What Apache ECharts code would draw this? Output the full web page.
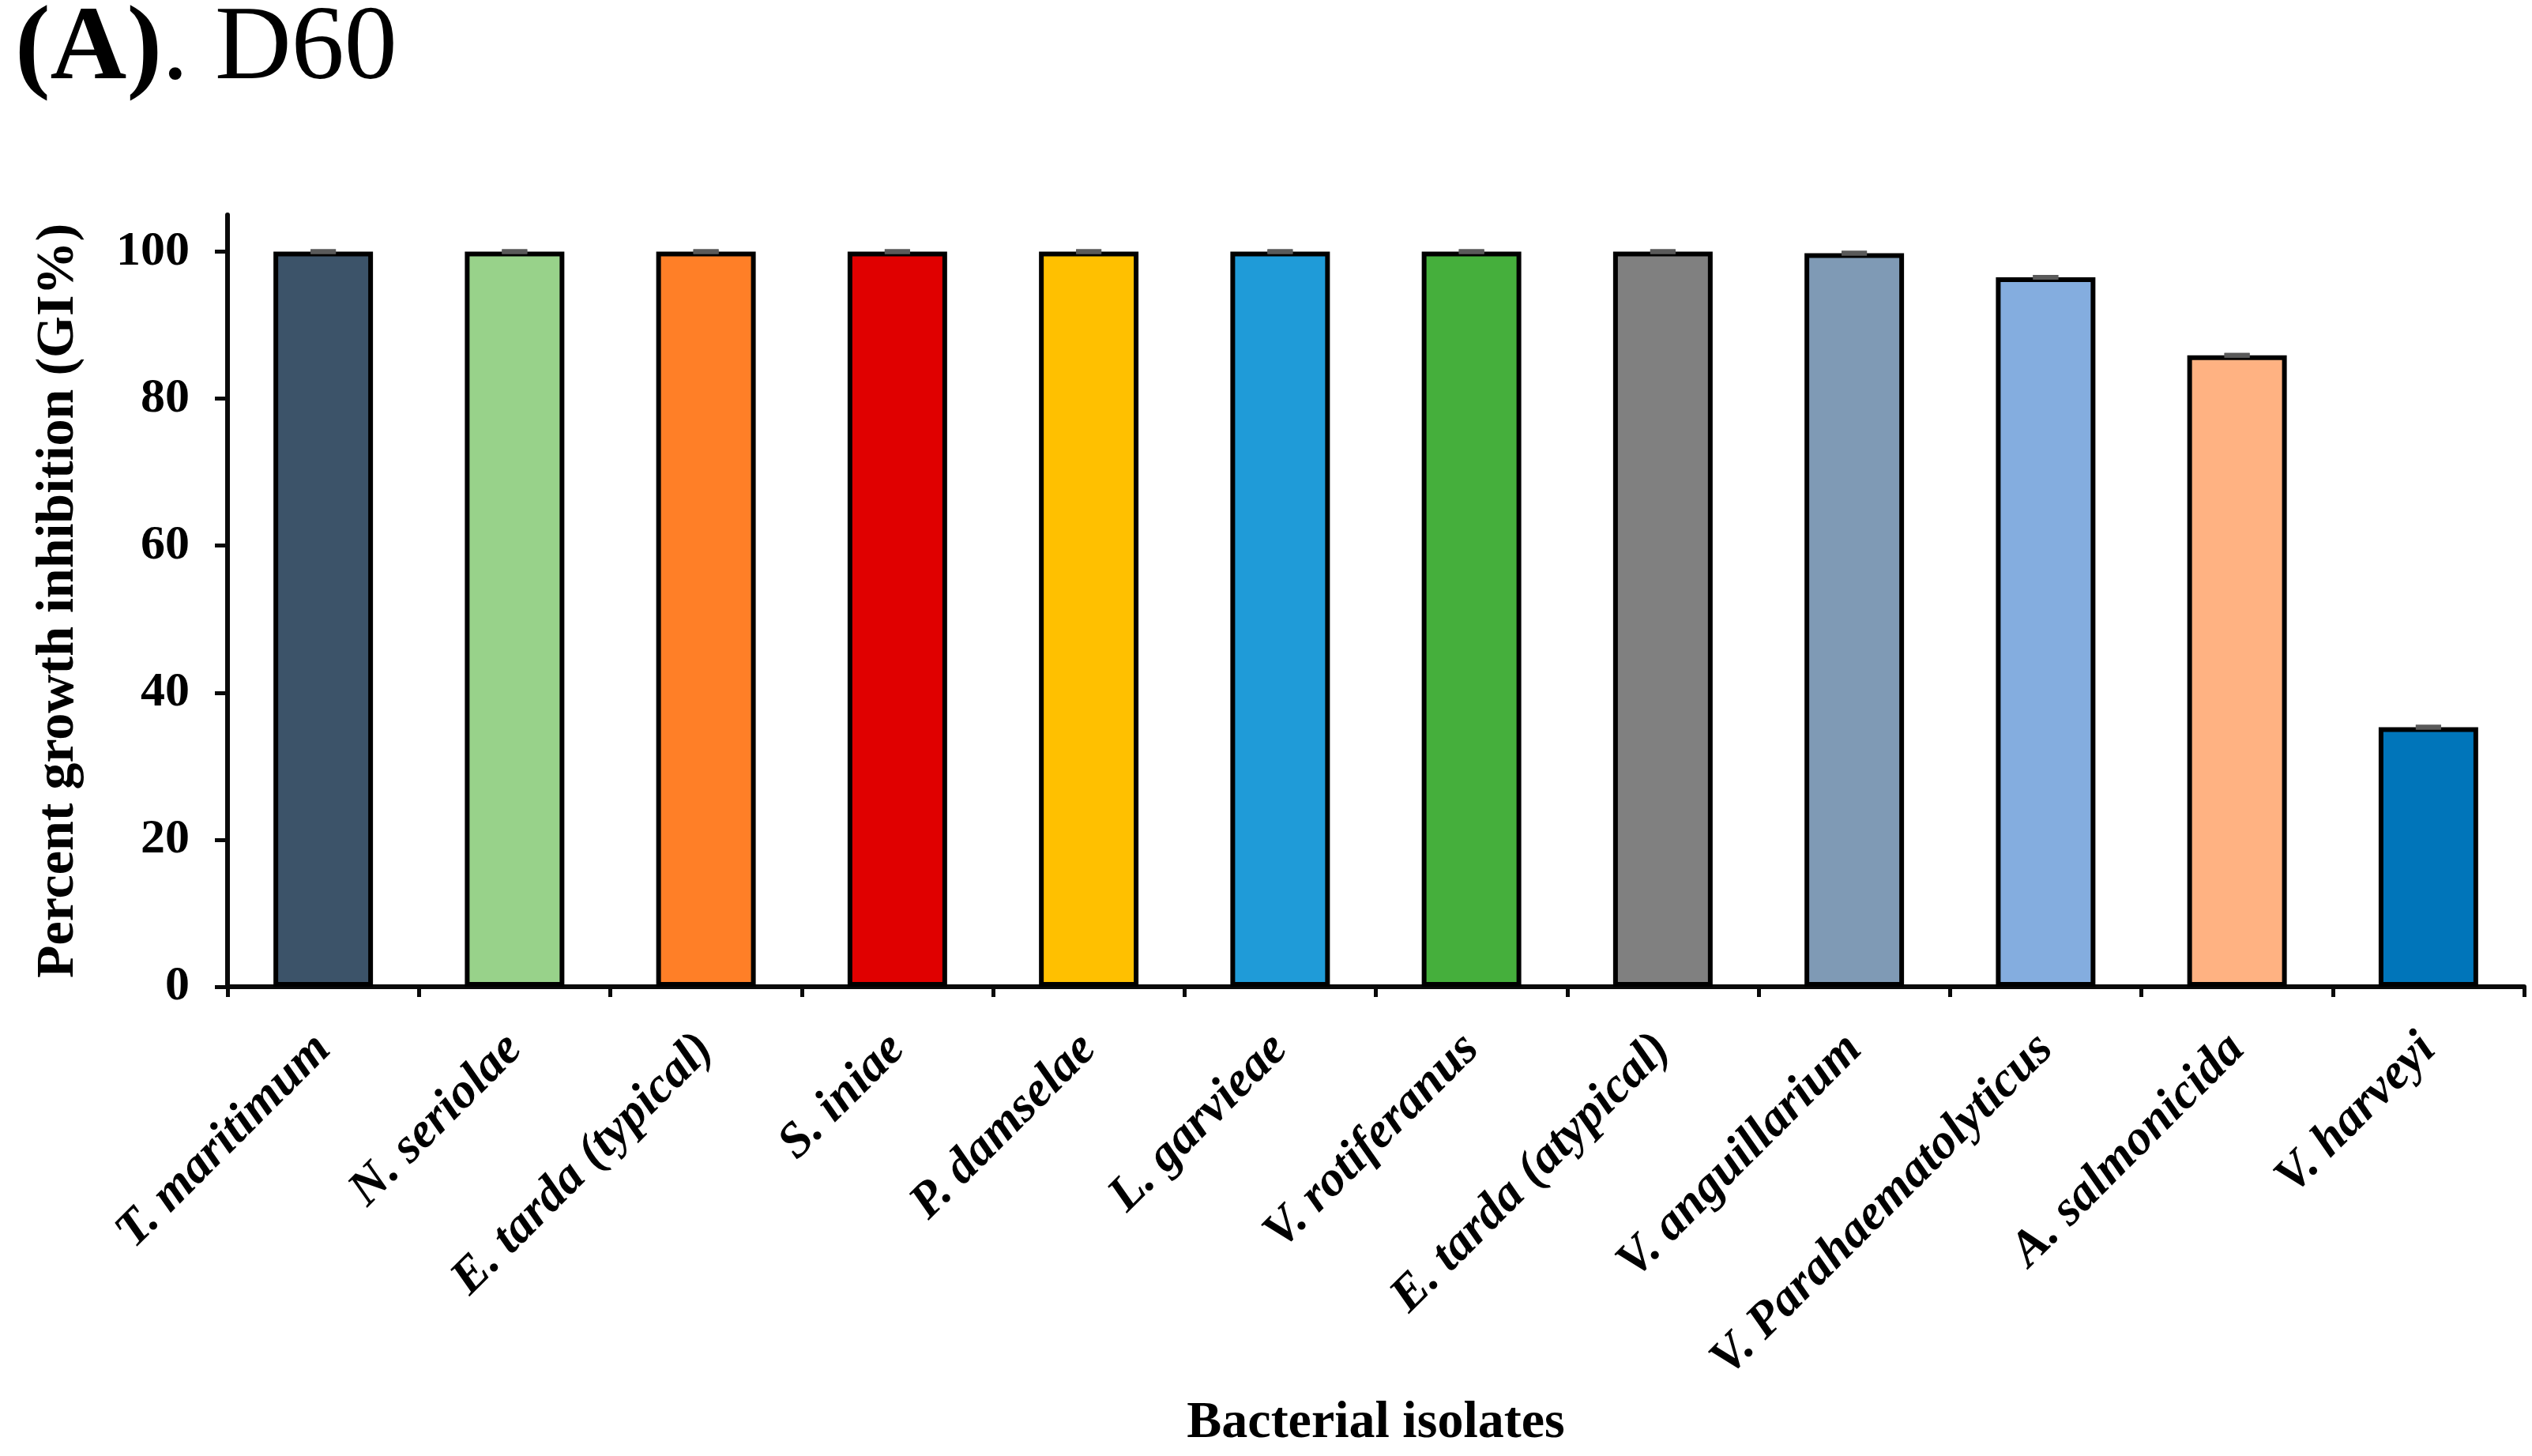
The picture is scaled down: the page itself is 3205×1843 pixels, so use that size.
<!DOCTYPE html>
<html>
<head>
<meta charset="utf-8">
<script src="https://cdn.jsdelivr.net/npm/echarts@6/dist/echarts.min.js"></script>
<style>
html,body{margin:0;padding:0;background:#fff;}
#chart{width:3205px;height:1843px;}
</style>
</head>
<body>
<div id="chart"></div>
<script>
const categories = ['T. maritimum','N. seriolae','E. tarda (typical)','S. iniae','P. damselae','L. garvieae','V. rotiferanus','E. tarda (atypical)','V. anguillarium','V. Parahaematolyticus','A. salmonicida','V. harveyi'];
const values = [100, 100, 100, 100, 100, 100, 100, 100, 99.8, 96.5, 85.9, 35.3];
const errors = [0, 0, 0, 0, 0, 0, 0, 0, 0, 0, 0, 0];
const colors = ['#3C5369','#98D28A','#FF7F27','#E00000','#FFC000','#1F9BD8','#45AF3C','#808080','#7F9AB5','#84ADDF','#FFB282','#0075BA'];
const yTicks = [0, 20, 40, 60, 80, 100];

const FONT = '"Liberation Serif", "Times New Roman", serif';
const chart = echarts.init(document.getElementById('chart'));
chart.setOption({
  animation: false,
  backgroundColor: '#fff',
  title: {
    text: '{b|(A)}{r|. D60}',
    left: 14,
    top: -8,
    textStyle: {
      rich: {
        b: {fontFamily: FONT, fontWeight: 'bold', fontSize: 134, color: '#000'},
        r: {fontFamily: FONT, fontWeight: 'normal', fontSize: 134, color: '#000'}
      }
    }
  },
  grid: {left: 288, right: 10, top: 272, bottom: 594, containLabel: false},
  xAxis: {
    type: 'category',
    data: categories,
    boundaryGap: true,
    name: 'Bacterial isolates',
    nameLocation: 'middle',
    nameGap: 520,
    nameTextStyle: {fontFamily: FONT, fontWeight: 'bold', fontSize: 66, color: '#000'},
    axisLine: {lineStyle: {color: '#0a0a0a', width: 6}},
    axisTick: {show: true, length: 13, lineStyle: {color: '#0a0a0a', width: 5}, alignWithLabel: false},
    axisLabel: {
      interval: 0, rotate: 45, margin: 70,
      fontFamily: FONT, fontStyle: 'italic', fontWeight: 'bold', fontSize: 63, color: '#000'
    },
    splitLine: {show: false}
  },
  yAxis: {
    type: 'value',
    min: 0, max: 105,
    name: 'Percent growth inhibition (GI%)',
    nameLocation: 'middle',
    nameGap: 180,
    nameTextStyle: {fontFamily: FONT, fontWeight: 'bold', fontSize: 68, color: '#000'},
    axisLine: {show: true, lineStyle: {color: '#0a0a0a', width: 6}},
    axisTick: {show: true, length: 16, customValues: yTicks, lineStyle: {color: '#0a0a0a', width: 5}},
    axisLabel: {customValues: yTicks, margin: 48, fontFamily: FONT, fontWeight: 'bold', fontSize: 62, color: '#000'},
    splitLine: {show: false}
  },
  series: [
    {
      type: 'bar',
      barWidth: '52%',
      data: values.map((v, i) => ({value: v, itemStyle: {color: colors[i]}})),
      itemStyle: {borderColor: '#000', borderWidth: 6},
      z: 2
    },
    {
      type: 'custom',
      z: 5,
      data: values.map((v, i) => [i, v, errors[i]]),
      renderItem: function (params, api) {
        const x = api.value(0), v = api.value(1), e = api.value(2);
        const top = api.coord([x, v + e]);
        const bot = api.coord([x, v - e]);
        const hw = 16;
        return {
          type: 'group',
          children: [
            {type: 'line', shape: {x1: top[0] - hw, y1: top[1], x2: top[0] + hw, y2: top[1]}, style: {stroke: '#5a5a5a', lineWidth: 6}},
            {type: 'line', shape: {x1: bot[0] - hw, y1: bot[1], x2: bot[0] + hw, y2: bot[1]}, style: {stroke: '#5a5a5a', lineWidth: 6}}
          ]
        };
      }
    }
  ]
});
</script>
</body>
</html>
